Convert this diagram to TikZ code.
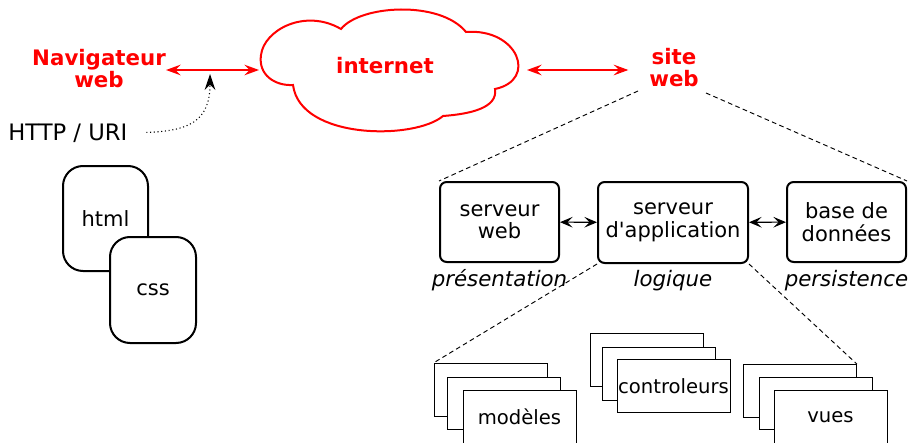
\documentclass[tikz,border=0pt]{standalone}
\usepackage{fontspec}
\setmainfont{DejaVu Sans}
\usetikzlibrary{arrows.meta}
\begin{document}
\begin{tikzpicture}[x=0.75pt,y=-0.75pt,
  redtxt/.style={text=red,font=\fontsize{16}{16.5}\selectfont\bfseries,align=center,inner sep=0pt},
  redarr/.style={draw=red,line width=0.9pt,{Stealth[length=11pt,width=8pt,inset=4pt]}-{Stealth[length=11pt,width=8pt,inset=4pt]}},
  dblarr/.style={draw,line width=0.8pt,{Stealth[length=9.5pt,width=8pt,inset=4pt]}-{Stealth[length=9.5pt,width=8pt,inset=4pt]}},
  dl/.style={dash pattern=on 3.5pt off 2.5pt,line width=0.7pt},
  box/.style={draw,line width=1.5pt,rounded corners=5pt,minimum width=89.25pt,minimum height=60pt,align=center,font=\fontsize{15.75}{16.8}\selectfont,inner sep=0pt},
  lbl/.style={font=\fontsize{16}{18}\selectfont\itshape,inner sep=0pt,anchor=base},
  card/.style={draw,line width=0.75pt,fill=white,minimum width=84.75pt,minimum height=39.5pt,inner sep=0pt,font=\fontsize{14.7}{17}\selectfont},
  page/.style={draw,line width=1.5pt,fill=white,rounded corners=15pt,minimum width=63.75pt,minimum height=78.75pt,inner sep=0pt,font=\fontsize{15.75}{18}\selectfont}
]
\clip (0,0) rectangle (912,442);
% cloud
\draw[red,line width=1.5pt,fill=white] (341,29) .. controls (360,5) and (440,0) .. (466,32)
  .. controls (518,28) and (538,80) .. (495,89)
  .. controls (498,108) and (470,114) .. (443,116)
  .. controls (415,140) and (300,140) .. (293,85)
  .. controls (275,86) and (258,75) .. (261,55)
  .. controls (264,30) and (305,8) .. (341,29) -- cycle;
\node[redtxt,anchor=base] (inet) at (385,74) {internet};
\coordinate (cl) at (259,70);
\coordinate (cr) at (527,70);
% browser
\node[redtxt] (nav) at (99,69) {Navigateur\\web};
\node[redtxt] (site) at (674,68) {site\\web};
\draw[redarr] (nav.east |- cl) -- (cl);
\draw[redarr,shorten >=15.5pt] (cr) -- (site.west |- cr);
% HTTP
\node[anchor=base west,font=\fontsize{17}{20}\selectfont,inner sep=0pt] (http) at (8,141) {HTTP / URI};
\coordinate (hu) at (210,74);
\draw[dotted,line width=0.8pt,-{Stealth[length=12pt,width=8pt,inset=4pt]}] ([xshift=14pt,yshift=1pt]http.east) .. controls (188,131) and (210,122) .. (hu);
% html css
\node[page] (html) at (105.5,218.5) {html};
\node[page,minimum width=64.5pt,minimum height=79.5pt] (css) at (153,290) {css};
% server boxes
\node[box] (sw) at (499.5,222) {serveur\\web};
\node[box,minimum width=112.5pt,minimum height=60.75pt] (sa) at (673,222.5) {serveur\\d\textquotesingle application};
\node[box] (bd) at (846.5,222) {base de\\données};
\draw[dblarr] (sw) -- (sa);
\draw[dblarr] (sa) -- (bd);
\node[lbl] (lp) at (499.5,286) {présentation};
\node[lbl] (ll) at (673,286) {logique};
\node[lbl] (lq) at (846.5,286) {persistence};
\coordinate (s1) at (638,91);
\coordinate (s2) at (706,93);
\draw[dl] (s1) -- (sw.north west);
\draw[dl] (s2) -- (bd.north east);
% cards
\node[card] (m1) at (490.5,389.75) {};
\node[card] (m2) at (503.5,403.5) {};
\node[card] (m3) at (519.5,417.25) {modèles};
\node[card] (c1) at (647,360) {};
\node[card] (c2) at (658.5,374) {};
\node[card] (c3) at (673.5,386) {controleurs};
\node[card] (v1) at (800,391) {};
\node[card] (v2) at (815.5,403.5) {};
\node[card] (v3) at (830.5,417.25) {vues};
\draw[dl] (sa.south west) -- (m1.north west);
\draw[dl] (sa.south east) -- (v1.north east);
\end{tikzpicture}
\end{document}
